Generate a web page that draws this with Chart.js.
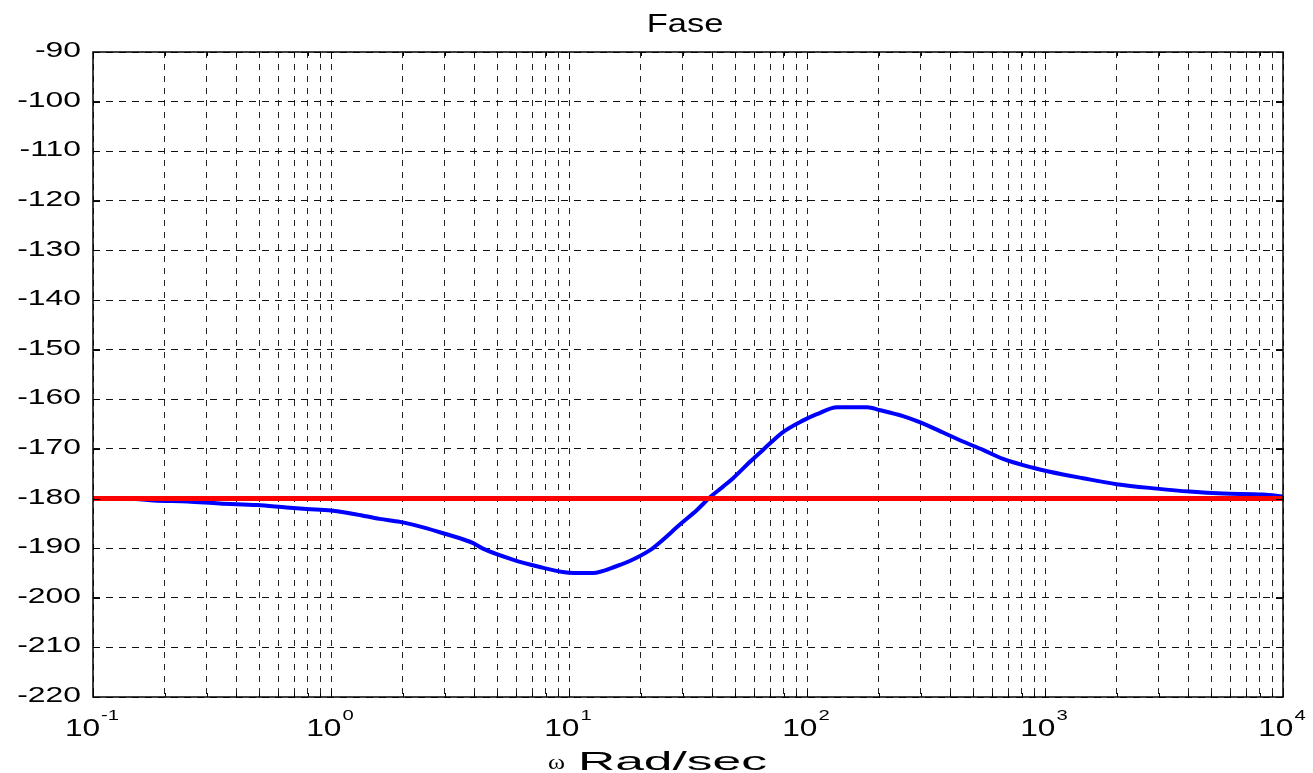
<!DOCTYPE html>
<html>
<head>
<meta charset="utf-8">
<script src="https://cdn.jsdelivr.net/npm/chart.js@4.4.1/dist/chart.umd.min.js"></script>
<style>
  html, body { margin: 0; padding: 0; background: #fff; }
  #wrap { width: 1313px; height: 773px; position: relative; }
</style>
</head>
<body>
<div id="wrap"><canvas id="c" width="1313" height="773"></canvas></div>
<script>
// ---- data ----
const chartTitle = "Fase";
const xAxisSymbol = "ω";
const xAxisTitle = "Rad/sec";
const omega = [0.1, 0.15, 0.18, 0.25, 0.34, 0.49, 0.65, 0.79, 1.0, 1.28, 1.6, 1.95, 2.44, 2.96, 3.96, 4.35, 5.8, 7.55, 9.4, 10.5, 12.6, 15.9, 18, 21.9, 24, 29.3, 34.5, 39, 44.4, 48.9, 57.6, 65.3, 79.3, 96, 110, 134, 179, 203, 253, 290, 329, 373, 452, 549, 666, 891, 1047, 1445, 2000, 2950, 4050, 5600, 8250, 10000];
const phase = [-180, -180.1, -180.4, -180.6, -181, -181.3, -181.8, -182.1, -182.4, -183.2, -184.1, -184.7, -185.8, -187, -189, -190.1, -192.3, -193.8, -194.8, -195, -195, -193.6, -192.6, -190.4, -188.9, -185.2, -182.3, -179.8, -177.6, -175.9, -172.6, -170.2, -166.6, -164.3, -163, -161.6, -161.6, -162.2, -163.4, -164.4, -165.5, -166.7, -168.5, -170.2, -172, -173.8, -174.6, -175.9, -177.1, -178, -178.6, -179, -179.2, -179.6];
const refOmega = [0.1, 10000];
const refPhase = [-180, -180];
const xDecadeExponents = [-1, 0, 1, 2, 3, 4];
const yTickValues = [-90, -100, -110, -120, -130, -140, -150, -160, -170, -180, -190, -200, -210, -220];

// ---- helpers ----
const xTickValues = [];
for (let e = -1; e <= 3; e++) {
  for (let k = 1; k <= 9; k++) xTickValues.push(Number((k * Math.pow(10, e)).toPrecision(6)));
}
xTickValues.push(10000);
const isDecade = v => Math.abs(Math.log10(v) - Math.round(Math.log10(v))) < 1e-9;

function stretchText(ctx, txt, x, y, font, sx, align, baseline) {
  ctx.save();
  ctx.font = font;
  ctx.textAlign = align || 'left';
  ctx.textBaseline = baseline || 'alphabetic';
  ctx.translate(x, y);
  ctx.scale(sx, 1);
  ctx.fillStyle = '#000';
  ctx.fillText(txt, 0, 0);
  ctx.restore();
}
function textW(ctx, txt, font, sx) {
  ctx.save(); ctx.font = font; const w = ctx.measureText(txt).width * sx; ctx.restore(); return w;
}
// draw text so it spans exactly [x0, x1]
function fitText(ctx, txt, x0, x1, y, font) {
  const w = textW(ctx, txt, font, 1);
  stretchText(ctx, txt, x0, y, font, (x1 - x0) / w, 'left');
}

const SANS = '"Liberation Sans", Arial, sans-serif';

const decorPlugin = {
  id: 'decor',
  afterDraw(chart) {
    const ctx = chart.ctx;
    const a = chart.chartArea;
    const xs = chart.scales.x, ys = chart.scales.y;
    ctx.save();
    // inside tick marks
    ctx.strokeStyle = '#000';
    ctx.lineWidth = 1;
    ctx.setLineDash([]);
    ctx.beginPath();
    xTickValues.forEach(v => {
      const px = Math.round(xs.getPixelForValue(v)) + 0.5;
      const len = isDecade(v) ? 7 : 4;
      ctx.moveTo(px, a.bottom); ctx.lineTo(px, a.bottom - len);
      ctx.moveTo(px, a.top); ctx.lineTo(px, a.top + len);
    });
    yTickValues.forEach(v => {
      const py = Math.round(ys.getPixelForValue(v)) + 0.5;
      ctx.moveTo(a.left, py); ctx.lineTo(a.left + 7, py);
      ctx.moveTo(a.right, py); ctx.lineTo(a.right - 7, py);
    });
    ctx.stroke();
    // frame
    ctx.lineWidth = 1.5;
    ctx.strokeRect(a.left, a.top, a.right - a.left, a.bottom - a.top);
    ctx.restore();

    // y tick labels
    yTickValues.forEach(v => {
      const py = ys.getPixelForValue(v);
      stretchText(ctx, String(v), a.left - 12, py - 1, '22px ' + SANS, 1.45, 'right', 'middle');
    });
    // x tick labels (10^n)
    const baseFont = '24px ' + SANS;
    const expFont = '15px ' + SANS;
    xDecadeExponents.forEach(e => {
      const v = Math.pow(10, e);
      const px = xs.getPixelForValue(v);
      const expTxt = e < 0 ? '-' + Math.abs(e) : String(e);
      const w1 = textW(ctx, '10', baseFont, 1.32);
      const w2 = textW(ctx, expTxt, expFont, 1.35);
      const start = px - (w1 + w2 + 1) / 2 - 1;
      stretchText(ctx, '10', start, 736, baseFont, 1.32, 'left');
      stretchText(ctx, expTxt, start + w1 + 1, 720, expFont, 1.35, 'left');
    });
    // title
    stretchText(ctx, chartTitle, (a.left + a.right) / 2 - 3, 32, '25px ' + SANS, 1.38, 'center');
    // x axis title
    fitText(ctx, xAxisSymbol, 548, 565, 769, '22px "Liberation Serif", "Times New Roman", serif');
    fitText(ctx, xAxisTitle, 578, 767, 770, '25px ' + SANS);
  }
};

const phasePoints = omega.map((w, i) => ({ x: w, y: phase[i] }));
const refPoints = refOmega.map((w, i) => ({ x: w, y: refPhase[i] }));

new Chart(document.getElementById('c'), {
  type: 'line',
  data: {
    datasets: [
      { data: refPoints, borderColor: '#ff0000', borderWidth: 5, pointRadius: 0, fill: false, tension: 0 },
      { data: phasePoints, borderColor: '#0000ff', borderWidth: 4, pointRadius: 0, fill: false, cubicInterpolationMode: 'monotone' }
    ]
  },
  options: {
    responsive: false,
    animation: false,
    devicePixelRatio: 1,
    layout: { padding: { left: 93, right: 30, top: 52, bottom: 76 } },
    plugins: { legend: { display: false }, tooltip: { enabled: false }, title: { display: false } },
    scales: {
      x: {
        type: 'logarithmic',
        min: 0.1, max: 10000,
        afterBuildTicks: (scale) => { scale.ticks = xTickValues.map(v => ({ value: v, major: isDecade(v) })); },
        ticks: { display: false, autoSkip: false },
        grid: { color: '#222', lineWidth: 1, drawTicks: false },
        border: { display: false, dash: [6, 6] }
      },
      y: {
        type: 'linear',
        min: -220, max: -90,
        afterBuildTicks: (scale) => { scale.ticks = yTickValues.map(v => ({ value: v })); },
        ticks: { display: false, autoSkip: false },
        grid: { color: '#111', lineWidth: 1, drawTicks: false },
        border: { display: false, dash: [7, 6] }
      }
    }
  },
  plugins: [decorPlugin]
});
</script>
</body>
</html>
